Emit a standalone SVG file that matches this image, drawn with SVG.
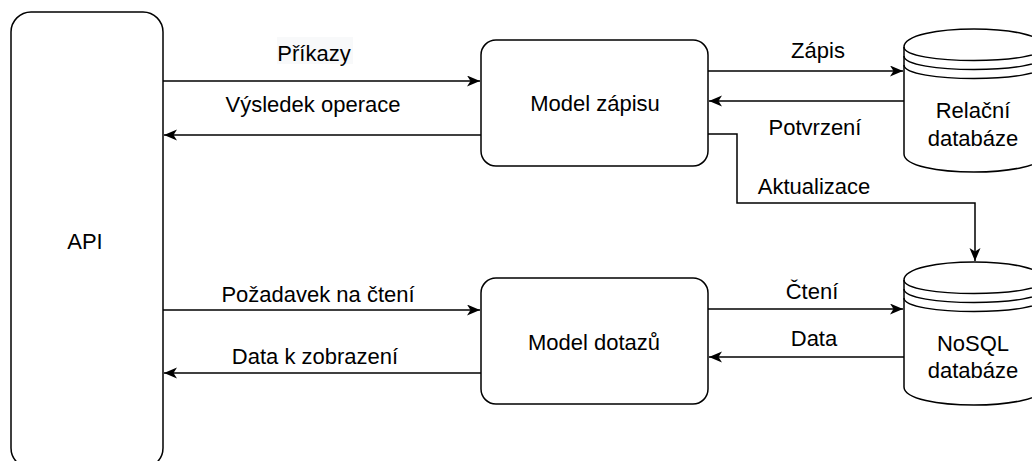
<svg xmlns="http://www.w3.org/2000/svg" width="1032" height="461" viewBox="0 0 1032 461">
<style>
.box{fill:#ffffff;stroke:#000000;stroke-width:1.5}
.edge{fill:none;stroke:#000000;stroke-width:1.5}
.t{font-family:"Liberation Sans",Arial,sans-serif;font-size:22px;fill:#000000;text-anchor:middle}
</style>
<defs>
<marker id="arr" markerUnits="userSpaceOnUse" markerWidth="14" markerHeight="12" refX="13" refY="5.5" orient="auto">
<path d="M0,0 L13,5.5 L0,11 L3.5,5.5 Z" fill="#000000"/>
</marker>
</defs>
<rect width="1032" height="461" fill="#ffffff"/>
<g id="connectors">
<line class="edge" x1="163" y1="81" x2="480" y2="81" marker-end="url(#arr)"/>
<line class="edge" x1="481" y1="135" x2="164" y2="135" marker-end="url(#arr)"/>
<line class="edge" x1="708" y1="71" x2="903" y2="71" marker-end="url(#arr)"/>
<line class="edge" x1="904" y1="101" x2="709" y2="101" marker-end="url(#arr)"/>
<polyline class="edge" points="708,134 737,134 737,203 975,203 975,261" marker-end="url(#arr)"/>
<line class="edge" x1="163" y1="310" x2="480" y2="310" marker-end="url(#arr)"/>
<line class="edge" x1="481" y1="373" x2="164" y2="373" marker-end="url(#arr)"/>
<line class="edge" x1="708" y1="309" x2="903" y2="309" marker-end="url(#arr)"/>
<line class="edge" x1="904" y1="357" x2="709" y2="357" marker-end="url(#arr)"/>
<rect x="277" y="37" width="76" height="27" fill="#f8f9fa"/>
<text class="t" x="314" y="61">Příkazy</text>
<text class="t" x="313" y="112">Výsledek operace</text>
<text class="t" x="818" y="58">Zápis</text>
<text class="t" x="815" y="135">Potvrzení</text>
<text class="t" x="814" y="194">Aktualizace</text>
<text class="t" x="318" y="302">Požadavek na čtení</text>
<text class="t" x="315" y="364">Data k zobrazení</text>
<text class="t" x="812" y="299">Čtení</text>
<text class="t" x="814" y="346">Data</text>
</g>
<g id="api">
<rect class="box" x="11" y="12" width="152" height="456" rx="20" ry="20"/>
<text class="t" x="85" y="249">API</text>
</g>
<g id="model-zapisu">
<rect class="box" x="481" y="40" width="227" height="126" rx="15" ry="15"/>
<text class="t" x="595" y="111">Model zápisu</text>
</g>
<g id="model-dotazu">
<rect class="box" x="481" y="278" width="227" height="126" rx="15" ry="15"/>
<text class="t" x="594" y="350">Model dotazů</text>
</g>
<g id="relacni-databaze">
<path class="box" d="M904,47 C904,23 1044,23 1044,47 L1044,154 C1044,178 904,178 904,154 Z"/>
<path class="edge" d="M904,47 C904,65 1044,65 1044,47 M904,56 C904,74 1044,74 1044,56 M904,65 C904,83 1044,83 1044,65"/>
<text class="t" x="973" y="118">Relační</text>
<text class="t" x="973" y="146">databáze</text>
</g>
<g id="nosql-databaze">
<path class="box" d="M904,280 C904,256 1044,256 1044,280 L1044,387 C1044,411 904,411 904,387 Z"/>
<path class="edge" d="M904,280 C904,298 1044,298 1044,280 M904,289 C904,307 1044,307 1044,289 M904,298 C904,316 1044,316 1044,298"/>
<text class="t" x="973" y="351">NoSQL</text>
<text class="t" x="973" y="378">databáze</text>
</g>
</svg>
